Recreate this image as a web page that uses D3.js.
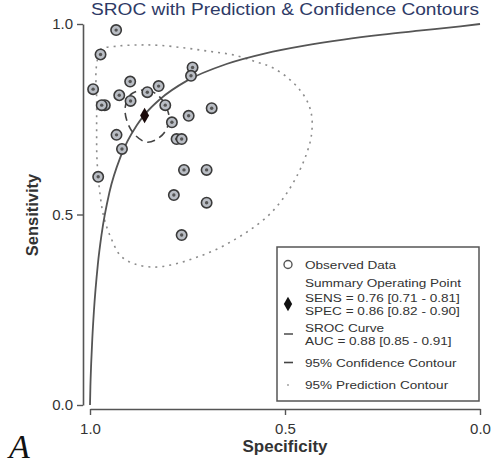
<!DOCTYPE html>
<html>
<head>
<meta charset="utf-8">
<script src="https://cdn.jsdelivr.net/npm/d3@7"></script>
<style>
  html, body { margin: 0; padding: 0; background: #fff; }
  svg { display: block; font-family: "Liberation Sans", Arial, sans-serif; }
</style>
</head>
<body>
<svg id="chart" width="494" height="468"></svg>
<script>
// ---------------- data ----------------
const titleText = "SROC with Prediction & Confidence Contours";
const xTicks = [1.0, 0.5, 0.0];
const yTicks = [0.0, 0.5, 1.0];

// observed studies
const obsSpec = [0.933, 0.973, 0.992, 0.897, 0.925, 0.962, 0.970, 0.853, 0.824, 0.896, 0.807,
                 0.737, 0.741, 0.747, 0.688, 0.790, 0.932, 0.918, 0.778, 0.765, 0.979, 0.759,
                 0.701, 0.785, 0.701, 0.765];
const obsSens = [0.984, 0.920, 0.829, 0.849, 0.813, 0.787, 0.787, 0.821, 0.837, 0.798, 0.787,
                 0.886, 0.864, 0.759, 0.779, 0.742, 0.709, 0.672, 0.698, 0.698, 0.599, 0.617,
                 0.617, 0.551, 0.531, 0.446];

// summary operating point
const summarySpec = 0.86;
const summarySens = 0.76;

// SROC curve
const srocSpec = [1.000, 0.999, 0.997, 0.994, 0.990, 0.980, 0.970, 0.950, 0.920, 0.880, 0.860,
                  0.820, 0.750, 0.650, 0.550, 0.450, 0.350, 0.250, 0.150, 0.050, 0.000];
const srocSens = [0.000, 0.047, 0.108, 0.176, 0.246, 0.368, 0.450, 0.559, 0.656, 0.734, 0.762,
                  0.803, 0.852, 0.895, 0.923, 0.943, 0.959, 0.972, 0.983, 0.994, 1.000];

// 95% confidence contour
const confSpec = [0.890, 0.851, 0.821, 0.803, 0.797, 0.808, 0.831, 0.856, 0.882, 0.900, 0.910, 0.905];
const confSens = [0.819, 0.827, 0.808, 0.779, 0.748, 0.717, 0.696, 0.690, 0.706, 0.732, 0.769, 0.801];

// 95% prediction contour
const predSpec = [0.982, 0.974, 0.928, 0.872, 0.821, 0.756, 0.692, 0.633, 0.572, 0.533, 0.492,
                  0.462, 0.441, 0.431, 0.433, 0.446, 0.467, 0.500, 0.538, 0.582, 0.626, 0.679,
                  0.731, 0.782, 0.833, 0.885, 0.921, 0.946, 0.964, 0.974, 0.982, 0.983, 0.983, 0.985];
const predSens = [0.900, 0.932, 0.942, 0.945, 0.944, 0.937, 0.928, 0.919, 0.900, 0.886, 0.858,
                  0.827, 0.793, 0.754, 0.703, 0.656, 0.606, 0.549, 0.502, 0.465, 0.436, 0.407,
                  0.386, 0.370, 0.362, 0.370, 0.391, 0.438, 0.491, 0.551, 0.643, 0.727, 0.808, 0.866];

const legendLabels = ["Observed Data", "Summary Operating Point", "SENS = 0.76 [0.71 - 0.81]",
                      "SPEC = 0.86 [0.82 - 0.90]", "SROC Curve", "AUC = 0.88 [0.85 - 0.91]",
                      "95% Confidence Contour", "95% Prediction Contour"];

// ---------------- drawing ----------------
const svg = d3.select("#chart");
const x = d3.scaleLinear().domain([1, 0]).range([90, 480]);
const y = d3.scaleLinear().domain([0, 1]).range([405, 24]);

const axisColor = "#555";

// title
svg.append("text")
  .attr("x", 285).attr("y", 15)
  .attr("text-anchor", "middle")
  .attr("font-size", 16)
  .attr("fill", "#2e3a66")
  .attr("textLength", 388)
  .attr("lengthAdjust", "spacingAndGlyphs")
  .text(titleText);

// axes
const yAxis = svg.append("g").attr("transform", "translate(83,0)")
  .call(d3.axisLeft(y).tickValues(yTicks).tickFormat(d3.format(".1f")).tickSize(6).tickSizeOuter(0).tickPadding(4));
const xAxis = svg.append("g").attr("transform", "translate(0,409)")
  .call(d3.axisBottom(x).tickValues(xTicks).tickFormat(d3.format(".1f")).tickSize(6).tickSizeOuter(0).tickPadding(8));
[yAxis, xAxis].forEach(g => {
  g.select(".domain").attr("stroke", axisColor).attr("stroke-width", 1.6);
  g.selectAll(".tick line").attr("stroke", axisColor).attr("stroke-width", 1.4);
  g.selectAll(".tick text").attr("fill", "#333").attr("font-size", 15)
    .attr("font-family", "Liberation Sans, Arial, sans-serif");
});

// axis titles
svg.append("text")
  .attr("x", 285).attr("y", 452)
  .attr("text-anchor", "middle")
  .attr("font-size", 16.5).attr("font-weight", "bold").attr("fill", "#333")
  .attr("textLength", 85).attr("lengthAdjust", "spacingAndGlyphs")
  .text("Specificity");
svg.append("text")
  .attr("transform", "translate(38,215) rotate(-90)")
  .attr("text-anchor", "middle")
  .attr("font-size", 16.5).attr("font-weight", "bold").attr("fill", "#333")
  .text("Sensitivity");

// panel letter
svg.append("text")
  .attr("x", 9).attr("y", 458)
  .attr("font-family", "Liberation Serif, Times New Roman, serif")
  .attr("font-style", "italic")
  .attr("font-size", 34).attr("fill", "#111")
  .text("A");

// prediction contour
const predPts = predSpec.map((s, i) => [x(s), y(predSens[i])]);
svg.append("path")
  .attr("d", d3.line().curve(d3.curveCatmullRomClosed)(predPts))
  .attr("fill", "none").attr("stroke", "#8c8c8c").attr("stroke-width", 1.6)
  .attr("stroke-dasharray", "2,5");

// SROC curve
const srocPts = srocSpec.map((s, i) => [x(s), y(srocSens[i])]);
svg.append("path")
  .attr("d", d3.line().curve(d3.curveMonotoneX)(srocPts))
  .attr("fill", "none").attr("stroke", "#555").attr("stroke-width", 1.8);

// confidence contour
const confPts = confSpec.map((s, i) => [x(s), y(confSens[i])]);
svg.append("path")
  .attr("d", d3.line().curve(d3.curveCatmullRomClosed)(confPts))
  .attr("fill", "none").attr("stroke", "#444").attr("stroke-width", 1.6)
  .attr("stroke-dasharray", "8,5");

// observed points
const pts = svg.append("g");
obsSpec.forEach((s, i) => {
  pts.append("circle")
    .attr("cx", x(s)).attr("cy", y(obsSens[i])).attr("r", 5.2)
    .attr("fill", "#b9bdc4").attr("stroke", "#3a3a3a").attr("stroke-width", 1.6);
  pts.append("circle")
    .attr("cx", x(s)).attr("cy", y(obsSens[i])).attr("r", 1.7)
    .attr("fill", "#555");
});

// summary point
svg.append("path")
  .attr("transform", `translate(${x(summarySpec)},${y(summarySens)})`)
  .attr("d", d3.symbol().type(d3.symbolDiamond).size(70)())
  .attr("fill", "#1a0a0a");

// legend
const lg = svg.append("g");
lg.append("rect")
  .attr("x", 277).attr("y", 247).attr("width", 202).attr("height", 154)
  .attr("fill", "#fff").attr("stroke", "#555").attr("stroke-width", 1.5);
const legendY = [268.5, 286.5, 302, 314.5, 332, 344.5, 366.5, 389];
legendLabels.forEach((t, i) => {
  lg.append("text")
    .attr("transform", `translate(305,${legendY[i]}) scale(1.18,1)`)
    .attr("font-size", 11.5).attr("fill", "#333")
    .text(t);
});
lg.append("circle").attr("cx", 288).attr("cy", 264.5).attr("r", 4)
  .attr("fill", "none").attr("stroke", "#555").attr("stroke-width", 1.4);
lg.append("path")
  .attr("transform", "translate(288,304)")
  .attr("d", d3.symbol().type(d3.symbolDiamond).size(60)())
  .attr("fill", "#111");
lg.append("line").attr("x1", 284).attr("x2", 293).attr("y1", 334).attr("y2", 334)
  .attr("stroke", "#555").attr("stroke-width", 1.6);
lg.append("line").attr("x1", 284).attr("x2", 293).attr("y1", 362.5).attr("y2", 362.5)
  .attr("stroke", "#444").attr("stroke-width", 1.6);
lg.append("circle").attr("cx", 288).attr("cy", 385).attr("r", 0.9)
  .attr("fill", "#999");
</script>
</body>
</html>
